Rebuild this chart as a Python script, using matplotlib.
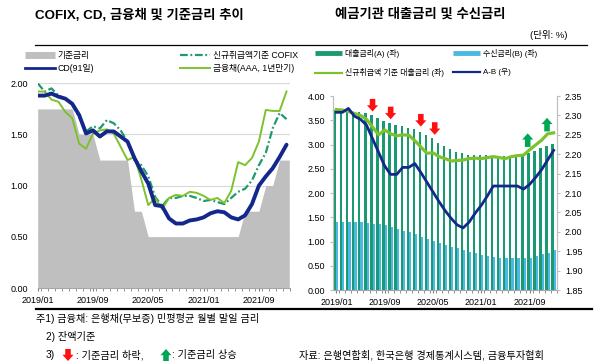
import numpy as np
import matplotlib
matplotlib.use("Agg")
import matplotlib.pyplot as plt
from matplotlib.lines import Line2D
from matplotlib.patches import FancyArrowPatch

plt.rcParams["font.family"] = ["Liberation Sans", "Noto Sans CJK KR"]

GRAY = "#BFBFBF"
NAVY = "#14288C"
TEAL = "#1A9A72"
LIME = "#7DC22E"
SKY = "#4CB8E6"
RED = "#FF1010"
GREEN = "#00A651"
ARROW = "simple,head_length=0.45,head_width=0.8,tail_width=0.4"

# 2019/01 ~ 2022/01, monthly
months = np.arange(37)
tick_months = [0, 8, 16, 24, 32]
tick_labels = ["2019/01", "2019/09", "2020/05", "2021/01", "2021/09"]

# left chart (%)
base_rate = [1.75, 1.75, 1.75, 1.75, 1.75, 1.75, 1.50, 1.50, 1.50, 1.25,
             1.25, 1.25, 1.25, 1.25, 0.75, 0.75, 0.50, 0.50, 0.50, 0.50,
             0.50, 0.50, 0.50, 0.50, 0.50, 0.50, 0.50, 0.50, 0.50, 0.50,
             0.75, 0.75, 0.75, 1.00, 1.00, 1.25, 1.25]
cd_91 = [1.88, 1.88, 1.90, 1.87, 1.85, 1.80, 1.69, 1.51, 1.54, 1.48,
         1.53, 1.53, 1.48, 1.43, 1.27, 1.14, 1.02, 0.81, 0.80, 0.68,
         0.63, 0.63, 0.66, 0.67, 0.69, 0.73, 0.75, 0.74, 0.69, 0.67,
         0.71, 0.82, 1.00, 1.09, 1.17, 1.28, 1.40]
cofix_new = [2.00, 1.92, 1.95, 1.88, 1.85, 1.79, 1.67, 1.53, 1.58, 1.56,
             1.64, 1.61, 1.54, 1.43, 1.25, 1.20, 1.09, 0.89, 0.80, 0.88,
             0.88, 0.90, 0.90, 0.88, 0.85, 0.86, 0.84, 0.82, 0.88, 0.94,
             0.97, 1.05, 1.20, 1.32, 1.56, 1.71, 1.65]
bank_bond = [1.92, 1.92, 1.84, 1.82, 1.72, 1.66, 1.41, 1.36, 1.51, 1.54,
             1.55, 1.51, 1.38, 1.25, 1.28, 1.06, 0.81, 0.88, 0.77, 0.88,
             0.91, 0.90, 0.94, 0.93, 0.90, 0.86, 0.88, 0.83, 0.95, 1.23,
             1.20, 1.27, 1.43, 1.74, 1.73, 1.73, 1.92]

# right chart (%)
loan_rate = [3.71, 3.71, 3.70, 3.68, 3.68, 3.66, 3.61, 3.54, 3.49, 3.44,
             3.40, 3.38, 3.35, 3.33, 3.26, 3.20, 3.13, 3.04, 2.97, 2.91,
             2.85, 2.82, 2.79, 2.78, 2.78, 2.78, 2.77, 2.76, 2.76, 2.76,
             2.78, 2.78, 2.82, 2.87, 2.93, 2.96, 3.02]
deposit_rate = [1.41, 1.41, 1.41, 1.41, 1.40, 1.39, 1.37, 1.36, 1.33, 1.29,
                1.26, 1.22, 1.19, 1.15, 1.10, 1.05, 1.01, 0.96, 0.92, 0.89,
                0.86, 0.82, 0.79, 0.76, 0.73, 0.71, 0.69, 0.67, 0.67, 0.65,
                0.65, 0.67, 0.67, 0.70, 0.74, 0.77, 0.82]
new_loan_rate = [3.72, 3.71, 3.68, 3.64, 3.60, 3.52, 3.36, 3.20, 3.30, 3.22,
                 3.18, 3.20, 3.19, 3.08, 2.95, 2.82, 2.83, 2.75, 2.71, 2.66,
                 2.67, 2.68, 2.71, 2.72, 2.71, 2.73, 2.75, 2.73, 2.71, 2.75,
                 2.77, 2.78, 2.89, 2.99, 3.09, 3.22, 3.24]
spread = [2.308, 2.308, 2.318, 2.298, 2.290, 2.275, 2.240, 2.205, 2.170, 2.148,
          2.148, 2.166, 2.166, 2.176, 2.153, 2.128, 2.103, 2.078, 2.055, 2.035,
          2.018, 2.010, 2.025, 2.048, 2.068, 2.092, 2.118, 2.118, 2.118, 2.118,
          2.118, 2.110, 2.122, 2.140, 2.160, 2.185, 2.210]

# base-rate change markers
cut_months = [6, 9, 14, 16.3]
cut_tips = [3.68, 3.52, 3.37, 3.20]
hike_months = [31.7, 34.9]
hike_bases = [2.95, 3.27]


def style_bottom(ax):
    ax.spines["top"].set_visible(False)
    ax.spines["bottom"].set_color("#A6A6A6")
    ax.set_xticks(tick_months)
    ax.set_xticklabels(tick_labels)
    ax.set_xticks(months + 0.5, minor=True)
    ax.tick_params(axis="x", which="both", length=2, color="#7F7F7F",
                   labelsize=6.5, pad=4)


def draw_arrow(ax, x, y_from, y_to, color):
    ax.annotate(
        "",
        xy=(x, y_to),
        xytext=(x, y_from),
        arrowprops=dict(arrowstyle=ARROW, fc=color, ec="none",
                        shrinkA=0, shrinkB=0, mutation_scale=10),
        zorder=30,
    )


fig = plt.figure(figsize=(6, 3.63), dpi=100)

# ---------------- left chart
ax1 = fig.add_axes([0.0628, 0.2066, 0.4205, 0.5639])
ax1.set_xlim(0, 36.4)
ax1.set_ylim(0, 2.0)

xs = np.r_[months, 36.4]
ax1.fill_between(xs, 0, np.r_[base_rate, base_rate[-1]], color=GRAY, lw=0, zorder=1)
ax1.plot(months, cofix_new, color="#1F9A6A", lw=1.6,
         linestyle=(0, (3.5, 1.2, 0.8, 1.2)), zorder=3)
ax1.plot(months, bank_bond, color=LIME, lw=1.4, zorder=4)
ax1.plot(months, cd_91, color=NAVY, lw=2.8, solid_capstyle="round", zorder=5)

ax1.set_yticks([0, 0.5, 1.0, 1.5, 2.0])
ax1.set_yticklabels(["0.00", "0.50", "1.00", "1.50", "2.00"])
ax1.yaxis.grid(True, color="#D9D9D9", lw=0.8, zorder=0)
ax1.set_axisbelow(True)
ax1.tick_params(axis="y", length=0, labelsize=6.5, pad=7)
for side in ["left", "right"]:
    ax1.spines[side].set_visible(False)
style_bottom(ax1)

# ---------------- right chart
ax2 = fig.add_axes([0.5555, 0.2011, 0.3723, 0.5344])
ax3 = ax2.twinx()
ax2.set_xlim(-0.5, 36.5)
ax2.set_ylim(0, 4.0)
ax3.set_ylim(1.85, 2.35)

ax2.bar(months - 0.18, loan_rate, width=0.37, color=TEAL, lw=0, zorder=2)
ax2.bar(months + 0.18, deposit_rate, width=0.35, color=SKY, lw=0, zorder=2)
ax2.plot(months, new_loan_rate, color=LIME, lw=2.3, zorder=4)
ax3.plot(months, spread, color=NAVY, lw=2.0, zorder=5)

for x, tip in zip(cut_months, cut_tips):
    draw_arrow(ax2, x, tip + 0.26, tip, RED)
for x, base in zip(hike_months, hike_bases):
    draw_arrow(ax2, x, base, base + 0.28, GREEN)

left_ticks = np.arange(0, 4.01, 0.5)
right_ticks = np.arange(1.85, 2.351, 0.05)
ax2.set_yticks(left_ticks)
ax2.set_yticklabels([f"{v:.2f}" for v in left_ticks])
ax2.tick_params(axis="y", length=2, color="#BFBFBF", labelsize=6.5, pad=4)
ax3.set_yticks(right_ticks)
ax3.set_yticklabels([f"{v:.2f}" for v in right_ticks])
ax3.tick_params(axis="y", length=2, color="#BFBFBF", labelsize=6.5, pad=4)
for a in (ax2, ax3):
    a.spines["top"].set_visible(False)
    a.spines["left"].set_color("#BFBFBF")
    a.spines["right"].set_color("#BFBFBF")
ax3.spines["bottom"].set_visible(False)
style_bottom(ax2)

# ---------------- titles and rules
fig.text(35 / 600, 1 - 15 / 363, "COFIX, CD, 금융채 및 기준금리 추이",
         fontsize=9.6, fontweight="bold", va="center", ha="left")
fig.text(335 / 600, 1 - 15 / 363, "예금기관 대출금리 및 수신금리",
         fontsize=9.6, fontweight="bold", va="center", ha="left")
fig.text(567 / 600, 1 - 35 / 363, "(단위: %)", fontsize=6.8, va="center", ha="right")
fig.add_artist(Line2D([35 / 600, 587 / 600], [1 - 44.5 / 363] * 2,
                      color="black", lw=0.9))
fig.add_artist(Line2D([36 / 600, 592 / 600], [1 - 309 / 363] * 2,
                      color="black", lw=1.6))


# ---------------- legends
def legend_at(handles, labels, x_px, y_px, size, spacing):
    return fig.legend(handles, labels, loc="upper left",
                      bbox_to_anchor=(x_px / 600, 1 - y_px / 363),
                      frameon=False, fontsize=size, handlelength=3.4,
                      handletextpad=0.35, borderpad=0, borderaxespad=0,
                      labelspacing=spacing)


h_base = Line2D([], [], color=GRAY, lw=5, solid_capstyle="butt")
h_cd = Line2D([], [], color=NAVY, lw=2.0)
h_cofix = Line2D([], [], color="#1F9A6A", lw=1.6, linestyle=(0, (3.5, 1.2, 0.8, 1.2)))
h_bond = Line2D([], [], color=LIME, lw=1.4)
legend_at([h_base, h_cd], ["기준금리", "CD(91일)"], 25, 51, 6.3, 0.45)
legend_at([h_cofix, h_bond], ["신규취급액기준 COFIX", "금융채(AAA, 1년만기)"], 180, 51, 6.3, 0.45)

h_loan = Line2D([], [], color=TEAL, lw=3.5, solid_capstyle="butt")
h_dep = Line2D([], [], color=SKY, lw=3.5, solid_capstyle="butt")
h_new = Line2D([], [], color=LIME, lw=1.6)
h_ab = Line2D([], [], color=NAVY, lw=1.6)
legend_at([h_loan, h_new], ["대출금리(A) (좌)", "신규취급액 기준 대출금리 (좌)"], 315, 49, 5.7, 1.3)
legend_at([h_dep, h_ab], ["수신금리(B) (좌)", "A-B (우)"], 453, 49, 5.7, 1.3)

# ---------------- notes
fig.text(36 / 600, 1 - 319 / 363, "주1) 금융채: 은행채(무보증) 민평평균 월별 말일 금리",
         fontsize=7.3, va="center", ha="left")
fig.text(46 / 600, 1 - 337 / 363, "2) 잔액기준", fontsize=7.3, va="center", ha="left")
fig.text(46 / 600, 1 - 355 / 363, "3)", fontsize=7.3, va="center", ha="left")
fig.text(76 / 600, 1 - 355 / 363, ": 기준금리 하락,", fontsize=7.3, va="center", ha="left")
fig.text(172 / 600, 1 - 355 / 363, ": 기준금리 상승", fontsize=7.3, va="center", ha="left")
fig.text(299 / 600, 1 - 355 / 363, "자료: 은행연합회, 한국은행 경제통계시스템, 금융투자협회",
         fontsize=7.3, va="center", ha="left")
for x_px, color, down in [(68, RED, True), (166, GREEN, False)]:
    top, bottom = 1 - 349 / 363, 1 - 361 / 363
    fig.add_artist(FancyArrowPatch(
        (x_px / 600, top if down else bottom),
        (x_px / 600, bottom if down else top),
        transform=fig.transFigure, arrowstyle=ARROW,
        mutation_scale=10, fc=color, ec="none", shrinkA=0, shrinkB=0))

fig.savefig("out.png", dpi=100)
